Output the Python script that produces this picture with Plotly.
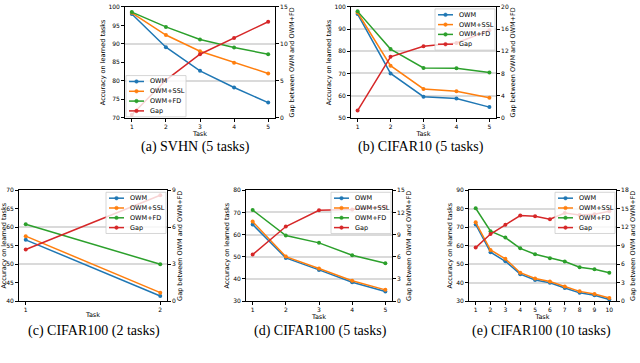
import plotly.graph_objects as go

# ---------------- data ----------------
series_names = ["OWM", "OWM+SSL", "OWM+FD", "Gap"]
series_colors = ["#1f77b4", "#ff7f0e", "#2ca02c", "#d62728"]

svhn_tasks = [1, 2, 3, 4, 5]
svhn_owm = [98.1, 89.1, 82.7, 78.2, 74.1]
svhn_ssl = [98.4, 92.4, 88.0, 84.9, 82.0]
svhn_fd = [98.6, 94.6, 91.2, 89.0, 87.2]
svhn_gap = [0.4, 5.1, 8.6, 10.8, 13.0]

c10_tasks = [1, 2, 3, 4, 5]
c10_owm = [96.8, 70.0, 59.5, 58.7, 54.8]
c10_ssl = [97.5, 73.5, 63.0, 62.0, 59.0]
c10_fd = [98.0, 81.0, 72.5, 72.3, 70.4]
c10_gap = [1.3, 11.0, 12.9, 13.5, 15.8]

c100_2_tasks = [1, 2]
c100_2_owm = [56.6, 41.4]
c100_2_ssl = [57.6, 42.3]
c100_2_fd = [60.8, 50.0]
c100_2_gap = [4.2, 8.6]

c100_5_tasks = [1, 2, 3, 4, 5]
c100_5_owm = [64.6, 49.5, 44.1, 38.5, 34.4]
c100_5_ssl = [65.9, 50.1, 44.7, 39.2, 35.1]
c100_5_fd = [71.1, 59.6, 56.3, 50.7, 47.1]
c100_5_gap = [6.3, 10.1, 12.3, 12.4, 12.8]

c100_10_tasks = [1, 2, 3, 4, 5, 6, 7, 8, 9, 10]
c100_10_owm = [71.5, 56.5, 51.6, 44.6, 41.5, 40.0, 37.1, 34.5, 33.2, 30.9]
c100_10_ssl = [72.7, 57.7, 52.9, 45.4, 42.3, 40.6, 37.9, 35.3, 33.9, 31.7]
c100_10_fd = [80.3, 67.9, 64.4, 58.6, 55.4, 53.3, 51.5, 48.4, 47.3, 45.4]
c100_10_gap = [8.7, 10.9, 12.4, 13.9, 13.8, 13.3, 14.3, 14.0, 14.1, 14.6]

captions = ["(a) SVHN (5 tasks)", "(b) CIFAR10 (5 tasks)", "(c) CIFAR100 (2 tasks)",
            "(d) CIFAR100 (5 tasks)", "(e) CIFAR100 (10 tasks)"]

left_title = "Accuracy on learned tasks"
right_title = "Gap between OWM and OWM+FD"
x_title = "Task"

# ---------------- layout config ----------------
W, H = 640, 363
panels = [
    dict(tasks=svhn_tasks, vals=[svhn_owm, svhn_ssl, svhn_fd], gap=svhn_gap,
         lr=[70, 100], ld=5, rr=[0, 15], rd=5, box=(125, 3, 275, 116),
         leg="ll", cap=(195, 146)),
    dict(tasks=c10_tasks, vals=[c10_owm, c10_ssl, c10_fd], gap=c10_gap,
         lr=[50, 100], ld=10, rr=[0, 20], rd=4, box=(351, 3, 496, 116),
         leg="ur", cap=(421, 146)),
    dict(tasks=c100_2_tasks, vals=[c100_2_owm, c100_2_ssl, c100_2_fd], gap=c100_2_gap,
         lr=[40, 70], ld=5, rr=[0, 9], rd=3, box=(19, 190, 167, 303),
         leg="ur", cap=(94, 333)),
    dict(tasks=c100_5_tasks, vals=[c100_5_owm, c100_5_ssl, c100_5_fd], gap=c100_5_gap,
         lr=[30, 80], ld=10, rr=[0, 15], rd=3, box=(246, 190, 392, 303),
         leg="ur", cap=(320, 333)),
    dict(tasks=c100_10_tasks, vals=[c100_10_owm, c100_10_ssl, c100_10_fd], gap=c100_10_gap,
         lr=[30, 90], ld=10, rr=[0, 18], rd=3, box=(469, 190, 616, 303),
         leg="ur", cap=(541, 333)),
]

TICK_FONT = dict(family="DejaVu Sans", size=6, color="black")
TITLE_FONT = dict(family="DejaVu Sans", size=6.5, color="black")


def px(x):
    return x / W


def py(y):
    return 1 - y / H


fig = go.Figure()
layout = dict(
    width=W, height=H, margin=dict(l=0, r=0, t=0, b=0),
    paper_bgcolor="white", plot_bgcolor="white", showlegend=False,
)
shapes = []
annotations = []

for i, p in enumerate(panels):
    k = i + 1
    xa = "x" if k == 1 else f"x{k}"
    yl_id = 2 * k - 1
    yr_id = 2 * k
    yl = "y" if yl_id == 1 else f"y{yl_id}"
    yr = f"y{yr_id}"
    L, T, R, B = p["box"]
    n = len(p["tasks"])
    span = n - 1
    xr = [1 - 0.05 * span, n + 0.05 * span]

    for j in range(3):
        fig.add_trace(go.Scatter(
            x=p["tasks"], y=p["vals"][j], mode="lines+markers", name=series_names[j],
            line=dict(color=series_colors[j], width=1.5),
            marker=dict(color=series_colors[j], size=4),
            xaxis=xa, yaxis=yl, showlegend=False))
    fig.add_trace(go.Scatter(
        x=p["tasks"], y=p["gap"], mode="lines+markers", name=series_names[3],
        line=dict(color=series_colors[3], width=1.5),
        marker=dict(color=series_colors[3], size=4),
        xaxis=xa, yaxis=yr, showlegend=False))

    xkey = "xaxis" if k == 1 else f"xaxis{k}"
    ylkey = "yaxis" if yl_id == 1 else f"yaxis{yl_id}"
    yrkey = f"yaxis{yr_id}"
    layout[xkey] = dict(
        domain=[px(L), px(R)], anchor=yl, range=xr, tickmode="array",
        tickvals=p["tasks"], ticks="outside", ticklen=3, tickwidth=0.8,
        tickcolor="black", showline=True, linecolor="black", linewidth=0.8,
        mirror=True, showgrid=False, zeroline=False, tickfont=TICK_FONT,
        title=dict(text=x_title, font=TITLE_FONT, standoff=0),
    )
    layout[ylkey] = dict(
        domain=[py(B), py(T)], anchor=xa, range=p["lr"], dtick=p["ld"], tick0=0,
        ticks="outside", ticklen=3, tickwidth=0.8, tickcolor="black",
        showline=True, linecolor="black", linewidth=0.8, showgrid=False,
        zeroline=False, tickfont=TICK_FONT,
        title=dict(text=left_title, font=TITLE_FONT, standoff=2),
    )
    layout[yrkey] = dict(
        overlaying=yl, side="right", anchor=xa, range=p["rr"], dtick=p["rd"], tick0=0,
        ticks="outside", ticklen=3, tickwidth=0.8, tickcolor="black",
        showline=True, linecolor="black", linewidth=0.8, showgrid=True,
        gridcolor="#dadada", gridwidth=1.5, zeroline=False, tickfont=TICK_FONT,
        title=dict(text=right_title, font=TITLE_FONT, standoff=1),
    )

    # legend box (pixel geometry)
    lw, lh = 60, 42
    if p["leg"] == "ll":
        bx0, by1 = L + 1, B - 1
        by0 = by1 - lh
    else:
        bx0 = R - 1 - lw
        by0 = T + 2
        by1 = by0 + lh
    bx1 = bx0 + lw
    shapes.append(dict(type="rect", xref="paper", yref="paper",
                       x0=px(bx0), x1=px(bx1), y0=py(by1), y1=py(by0),
                       fillcolor="rgba(255,255,255,0.8)",
                       line=dict(color="#cccccc", width=0.8), layer="above"))
    cy = (by0 + by1) / 2
    for j, (nm, col) in enumerate(zip(series_names, series_colors)):
        iy = cy + (j - 1.5) * 10
        shapes.append(dict(type="line", xref="paper", yref="paper",
                           x0=px(bx0 + 3), x1=px(bx0 + 18), y0=py(iy), y1=py(iy),
                           line=dict(color=col, width=1.5), layer="above"))
        shapes.append(dict(type="circle", xref="paper", yref="paper",
                           xsizemode="pixel", ysizemode="pixel",
                           xanchor=px(bx0 + 10.5), yanchor=py(iy),
                           x0=-1.8, x1=1.8, y0=-1.8, y1=1.8,
                           fillcolor=col, line=dict(color=col, width=0.5), layer="above"))
        annotations.append(dict(text=nm, xref="paper", yref="paper",
                                x=px(bx0 + 22), y=py(iy), xanchor="left", yanchor="middle",
                                showarrow=False, font=dict(family="DejaVu Sans", size=6.5, color="black")))

    cx, cyc = p["cap"]
    annotations.append(dict(text=captions[i], xref="paper", yref="paper",
                            x=px(cx), y=py(cyc), xanchor="center", yanchor="middle",
                            showarrow=False,
                            font=dict(family="Liberation Serif", size=14, color="black")))

layout["shapes"] = shapes
layout["annotations"] = annotations
fig.update_layout(**layout)
fig.write_html("out.html", config={"displayModeBar": False},
               post_script="document.body.style.margin='0';document.body.style.padding='0';")
